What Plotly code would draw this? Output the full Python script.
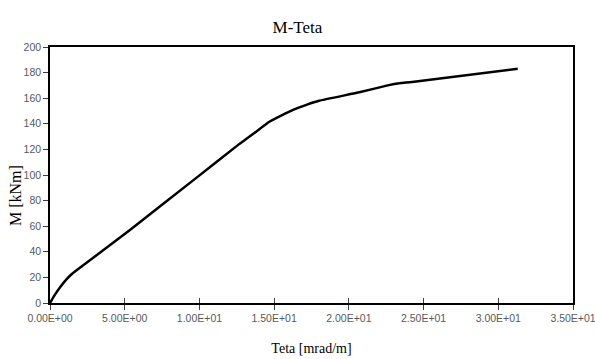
import plotly.graph_objects as go

teta = [0, 0.3, 0.7, 1.1, 1.5, 2.0, 5.35, 9.6, 12.7, 13.7, 14.6, 15.5, 16.3, 17.2, 18.0,
        20.7, 22.6, 23.5, 24.5, 31.3]
moment = [0, 6, 12.7, 18.5, 23, 27.5, 57, 96, 124.5, 133, 141, 146.5, 151, 155, 158,
          164.6, 170, 171.8, 173, 183]

x_tickvals = [0, 5, 10, 15, 20, 25, 30, 35]
x_ticktext = ["0.00E+00", "5.00E+00", "1.00E+01", "1.50E+01", "2.00E+01",
              "2.50E+01", "3.00E+01", "3.50E+01"]
y_tickvals = [0, 20, 40, 60, 80, 100, 120, 140, 160, 180, 200]

tick_font = dict(family="Liberation Sans, Arial, sans-serif", size=10.5, color="#595959")
serif = "Liberation Serif, Times New Roman, serif"

fig = go.Figure()
fig.add_trace(go.Scatter(x=teta, y=moment, mode="lines",
                         line=dict(color="black", width=2.5, shape="spline", smoothing=0.3),
                         showlegend=False, hoverinfo="skip"))
# invisible trace for secondary x axis (inside ticks)
fig.add_trace(go.Scatter(x=[teta[0]], y=[moment[0]], xaxis="x2", mode="markers",
                         marker=dict(opacity=0), showlegend=False, hoverinfo="skip"))

fig.update_layout(
    width=595, height=359,
    margin=dict(l=50, r=22, t=47, b=56),
    paper_bgcolor="white", plot_bgcolor="white",
    title=dict(text="M-Teta", x=0.5, xanchor="center", y=0.925, yanchor="middle",
               font=dict(family=serif, size=17, color="black")),
    xaxis=dict(range=[0, 35], tickvals=x_tickvals, ticktext=x_ticktext, automargin=False,
               ticklabeloverflow="allow",
               showgrid=False, zeroline=False, showline=True, linecolor="black",
               linewidth=1.5, mirror=True, ticks="outside", ticklen=5,
               tickcolor="#404040", tickfont=tick_font,
               title=dict(text="Teta [mrad/m]", font=dict(family=serif, size=14, color="black"),
                          standoff=20)),
    xaxis2=dict(range=[0, 35], overlaying="x", side="bottom", tickvals=x_tickvals,
                showticklabels=False, ticks="inside", ticklen=5, tickcolor="#404040",
                showgrid=False, zeroline=False, showline=False, automargin=False),
    yaxis=dict(range=[0, 200], tickvals=y_tickvals, showgrid=False, zeroline=False,
               automargin=False, ticklabeloverflow="allow",
               showline=True, linecolor="black", linewidth=1.5, mirror=True,
               ticks="outside", ticklen=5, tickcolor="#404040", tickfont=tick_font),
    annotations=[dict(text="M [kNm]", textangle=-90, xref="paper", yref="paper",
                      x=-0.065, y=0.418, xanchor="center", yanchor="middle", showarrow=False,
                      font=dict(family=serif, size=16, color="black"))],
)

fig.write_html("out.html")
